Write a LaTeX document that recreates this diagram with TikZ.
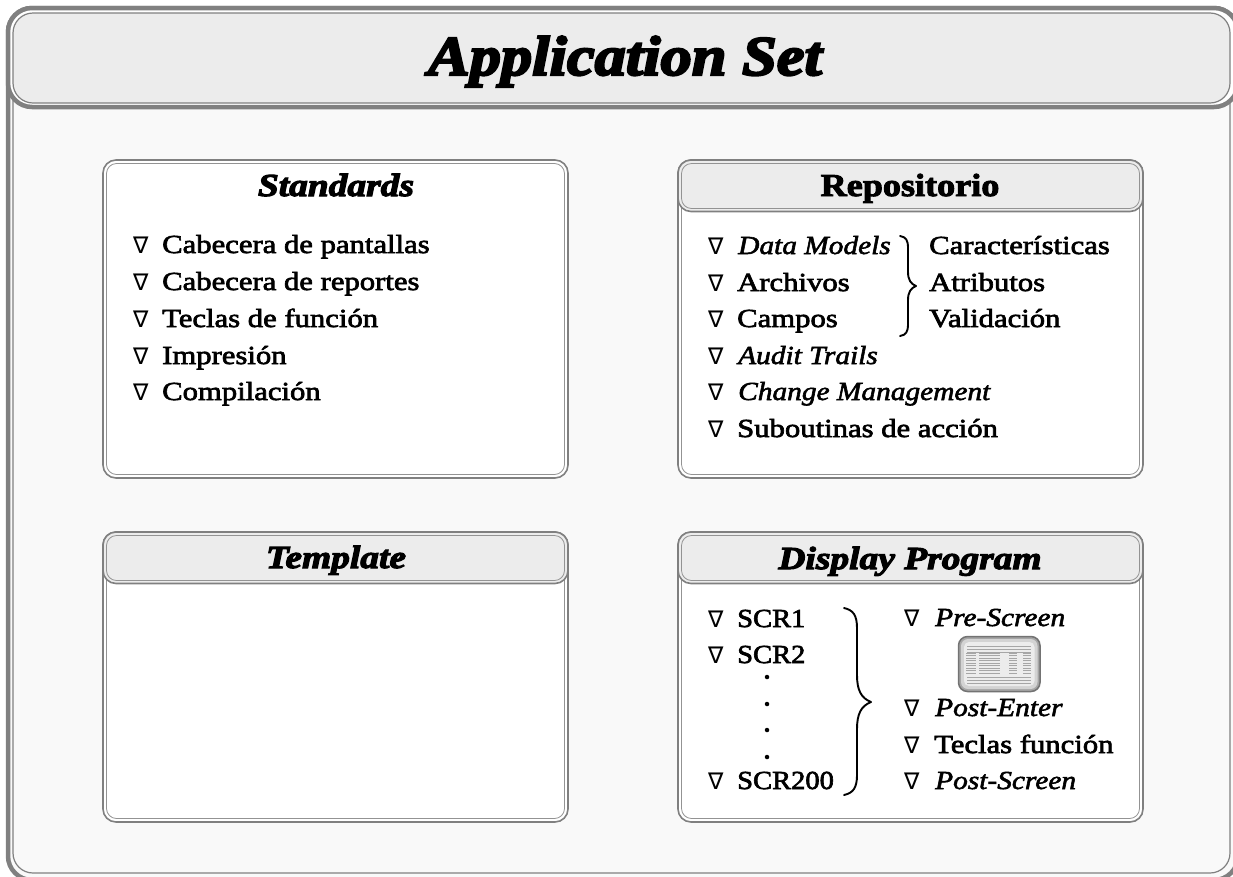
\documentclass[tikz,border=0pt]{standalone}
\usepackage{fontspec}
\setmainfont{Liberation Serif}
\newfontfamily\bodyf[FakeStretch=1.18,FakeBold=2.6]{Liberation Serif}
\newfontfamily\bodyi[FakeStretch=1.13,FakeBold=2.2]{Liberation Serif Italic}
\newfontfamily\headf[FakeStretch=1.13,FakeBold=3]{Liberation Serif Bold}
\newfontfamily\headi[FakeStretch=1.17,FakeBold=3.5]{Liberation Serif Bold Italic}
\newfontfamily\titlef[FakeStretch=1.115,FakeBold=4]{Liberation Serif Bold Italic}
\newfontfamily\symf{DejaVu Sans}
\definecolor{frame}{HTML}{808080}
\definecolor{headfill}{HTML}{ECECEC}
\definecolor{pagefill}{HTML}{F9F9F9}
\tikzset{
  lab/.style={anchor=base west,inner sep=0pt,font=\fontsize{26}{26}\bodyf},
  scrlab/.style={anchor=base west,inner sep=0pt,font=\fontsize{26}{26}\bodyf,xscale=.93},
  ilab/.style={anchor=base west,inner sep=0pt,font=\fontsize{26}{26}\bodyi},
  tri/.style={anchor=base west,inner sep=0pt,font=\fontsize{23}{23}\symf},
  htext/.style={anchor=base,inner sep=0pt,font=\fontsize{32}{32}\headf},
  hitext/.style={anchor=base,inner sep=0pt,font=\fontsize{32}{32}\headi},
  outerline/.style={draw=frame,line width=1.6pt,rounded corners=13pt},
  innerline/.style={draw=frame!85,line width=0.8pt,rounded corners=10pt},
  dotmark/.style={circle,fill=black,inner sep=0pt,minimum size=4.5pt},
  brace/.style={draw=black,line width=1.9pt,line cap=round,line join=round}
}
\newcommand{\panel}[4]{% x1 y1 x2 y2
  \path[outerline,fill=white] (#1,#2) rectangle (#3,#4);
  \path[innerline] (#1+3.5,#2+3.5) rectangle (#3-3.5,#4-3.5);
}
\newcommand{\panelhead}[3]{% x1 y1 x2
  \path[outerline,fill=headfill] (#1,#2) rectangle (#3+0,#2+51.5);
  \path[innerline] (#1+3.5,#2+3.5) rectangle (#3-3.5,#2+48.5);
}
\begin{document}
\begin{tikzpicture}[x=1pt,y=-1pt]
\useasboundingbox (0,0) rectangle (1233,876);
\fill[white] (0,0) rectangle (1233,876);
% page frame
\path[draw=frame,line width=4.5pt,rounded corners=24pt,fill=pagefill] (8,8) rectangle (1238,880);
\path[draw=frame,line width=1.2pt,rounded corners=20pt] (13,14) rectangle (1230,873);
\path[draw=frame,line width=4.5pt,rounded corners=24pt,fill=white] (8,8) rectangle (1238,107);
\path[draw=frame,line width=1.2pt,rounded corners=20pt,fill=headfill] (13,13) rectangle (1230,103);
\node[anchor=base,inner sep=0pt,font=\fontsize{56}{56}\titlef] (title) at (625,75) {Application Set};
% panels
\panel{103}{160}{568}{478}
\panel{678}{160}{1143}{478}
\panelhead{678}{160}{1143}
\panel{103}{532}{568}{822}
\panelhead{103}{532}{568}
\panel{678}{532}{1143}{822}
\panelhead{678}{532}{1143}
\node[hitext] (tstd) at (336,196) {Standards};
\node[htext] (trep) at (910,196) {Repositorio};
\node[hitext] (ttpl) at (336,568) {Template};
\node[hitext] (tdsp) at (910,569) {Display Program};
% Standards
\foreach \n/\y/\t in {a/253/Cabecera de pantallas,b/290/Cabecera de reportes,c/327/Teclas de función,d/364/Impresión,e/400/Compilación}{
  \node[tri] (s\n t) at (133,\y) {∇};
  \node[lab] (s\n) at (162,\y) {\t};
}
% Repositorio
\foreach \n/\y in {a/254,b/291,c/327,d/364,e/400,f/437}{\node[tri] (r\n t) at (708,\y) {∇};}
\node[ilab] (ra) at (738,254) {Data Models};
\node[lab] (rb) at (737,291) {Archivos};
\node[lab] (rc) at (737,327) {Campos};
\node[ilab] (rd) at (738,364) {Audit Trails};
\node[ilab] (re) at (738,400) {Change Management};
\node[lab] (rf) at (737,437) {Suboutinas de acción};
\node[lab] (rg) at (929,254) {Características};
\node[lab] (rh) at (929,291) {Atributos};
\node[lab] (ri) at (929,327) {Validación};
\path[brace] (900,236) .. controls (906,237) and (908,240) .. (908,248)
  -- (908,272) .. controls (908,280) and (911,284) .. (916,286)
  .. controls (911,288) and (908,292) .. (908,300)
  -- (908,324) .. controls (908,332) and (906,335) .. (900,336);
% Display
\foreach \n/\y in {a/627,b/663,c/789}{\node[tri] (d\n t) at (708,\y) {∇};}
\node[scrlab] (da) at (737,627) {SCR1};
\node[scrlab] (db) at (737,663) {SCR2};
\node[scrlab] (dc) at (737,789) {SCR200};
\foreach \n/\y in {a/677,b/704,c/730,d/757}{\node[dotmark] (dot\n) at (767,\y) {};}
\path[brace] (844,608) .. controls (853,610) and (857,615) .. (857,628)
  -- (857,675) .. controls (857,690) and (861,698) .. (871,702)
  .. controls (861,706) and (857,714) .. (857,729)
  -- (857,775) .. controls (857,788) and (853,793) .. (844,795);
\foreach \n/\y in {p/626,q/716,r/753,s/789}{\node[tri] (e\n t) at (904,\y) {∇};}
\node[ilab] (ep) at (935,626) {Pre-Screen};
\node[ilab] (eq) at (935,716) {Post-Enter};
\node[lab] (er) at (934,753) {Teclas función};
\node[ilab] (es) at (935,789) {Post-Screen};
% icon
\path[draw=frame!90!black,line width=1.5pt,rounded corners=9pt,fill=frame!70] (958.5,636.5) rectangle (1040,691.5);
\path[rounded corners=7pt,fill=frame!35] (961,639) rectangle (1037.5,689);
\path[rounded corners=5pt,fill=headfill] (964,642) rectangle (1034.5,686);
\foreach \y in {646,649,652,677,680,683}{\draw[frame!70,line width=.7pt] (967,\y+.0) -- (1031,\y+.0);}
\foreach \xa/\xb in {966/976,979/1000,1009/1017,1023/1031}{
  \foreach \y in {653,655.5,658,660.5,663,665.5,668,670.5,673}{
    \draw[frame!70,line width=.8pt] (\xa,\y) -- (\xb,\y);}
}
\end{tikzpicture}
\end{document}
